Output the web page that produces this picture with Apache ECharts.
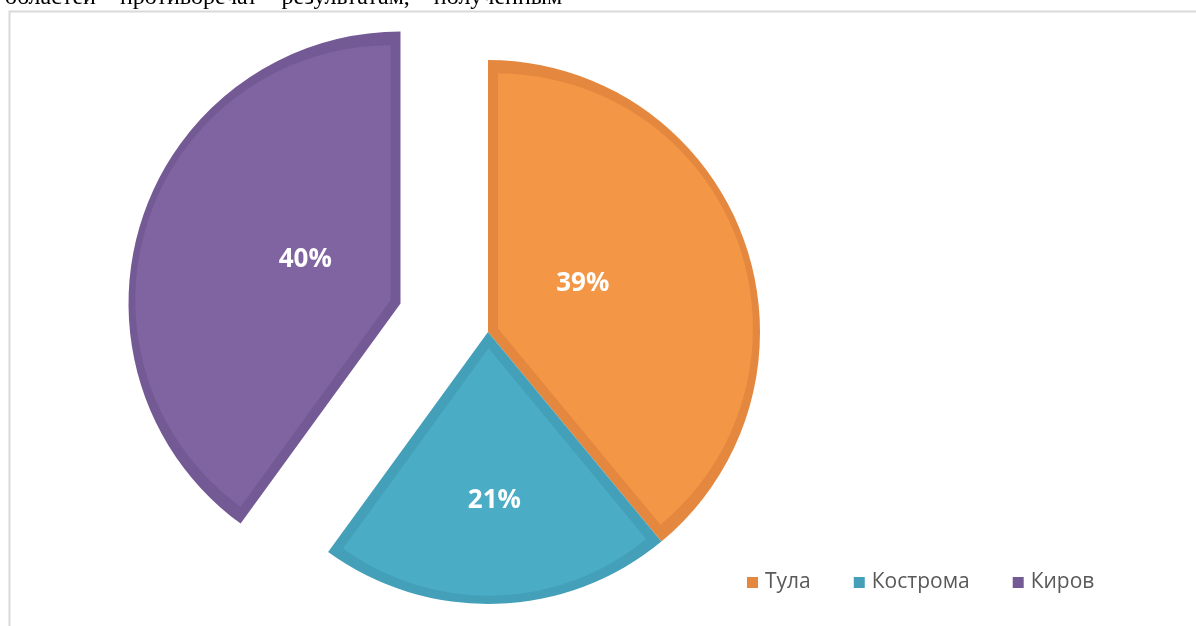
<!DOCTYPE html>
<html>
<head>
<meta charset="utf-8">
<style>
  html, body { margin: 0; padding: 0; background: #fff; }
  #chart { width: 1196px; height: 626px; }
</style>
<script src="https://cdn.jsdelivr.net/npm/echarts@6/dist/echarts.min.js"></script>
</head>
<body>
<div id="chart"></div>
<script>
// Share of respondents by region, percent
const regions = ['Тула', 'Кострома', 'Киров'];
const shares = [39, 21, 40];
const fillColors = ['#F39646', '#4BACC6', '#8064A2'];
const edgeColors = ['#E3883E', '#44A0B9', '#745A95'];
const pulledOut = 'Киров';

// pie geometry
const CENTER = [488, 332];
const RADIUS = 272;
const PULL = 92;      // how far the pulled-out slice is moved
const EDGE = 10;      // width of the darker rim drawn inside each slice

// small nudges so the percentage labels sit where the layout wants them
const labelShift = [[-36, -1], [2, 30], [37, -1]];

const chart = echarts.init(document.getElementById('chart'), null, { renderer: 'canvas' });

// angular span and bisector direction of every slice (clockwise from 12 o'clock)
const total = shares.reduce((a, b) => a + b, 0);
let acc = 0;
const slices = shares.map((v, i) => {
  const span = v / total * 2 * Math.PI;
  const mid = acc + span / 2;
  acc += span;
  return { span, dir: [Math.sin(mid), -Math.cos(mid)], pulled: regions[i] === pulledOut };
});

const transparent = 'rgba(0,0,0,0)';

// darker rim layer: full slices
const rimSeries = {
  type: 'pie',
  z: 1,
  silent: true,
  center: CENTER,
  radius: RADIUS,
  startAngle: 90,
  clockwise: true,
  selectedMode: 'single',
  selectedOffset: PULL,
  emphasis: { disabled: true },
  label: { show: false },
  labelLine: { show: false },
  data: regions.map((name, i) => ({
    name, value: shares[i], selected: name === pulledOut,
    itemStyle: { color: edgeColors[i] }
  }))
};

// lighter fill of each slice, inset from its rim by EDGE px on every side
const fillSeries = slices.map((s, i) => {
  const half = s.span / 2;
  const shift = EDGE / Math.sin(half);
  const base = s.pulled ? PULL : 0;
  const c = [CENTER[0] + s.dir[0] * (base + shift), CENTER[1] + s.dir[1] * (base + shift)];
  const r = RADIUS - EDGE - shift * (1 + Math.cos(half)) / 2;
  return {
    type: 'pie',
    z: 2,
    silent: true,
    center: c,
    radius: r,
    startAngle: 90,
    clockwise: true,
    emphasis: { disabled: true },
    label: { show: false },
    labelLine: { show: false },
    data: regions.map((name, j) => ({
      name, value: shares[j],
      itemStyle: { color: j === i ? fillColors[i] : transparent }
    }))
  };
});

// percentage labels
const labelSeries = {
  type: 'pie',
  z: 3,
  silent: true,
  center: CENTER,
  radius: RADIUS,
  startAngle: 90,
  clockwise: true,
  selectedMode: 'single',
  selectedOffset: PULL,
  percentPrecision: 0,
  avoidLabelOverlap: false,
  emphasis: { disabled: true },
  itemStyle: { color: transparent },
  label: {
    show: true,
    position: 'inside',
    formatter: '{d}%',
    color: '#ffffff',
    fontSize: 26,
    fontWeight: 'bold',
    fontFamily: '"Open Sans", "Noto Sans", sans-serif'
  },
  labelLine: { show: false },
  labelLayout: function (p) {
    const sh = labelShift[p.dataIndex];
    return { dx: sh[0], dy: sh[1] };
  },
  data: regions.map((name, i) => ({ name, value: shares[i], selected: name === pulledOut }))
};

chart.setOption({
  animation: false,
  backgroundColor: '#ffffff',
  color: edgeColors,
  graphic: [
    {
      type: 'text',
      left: 5,
      top: -14,
      silent: true,
      style: {
        text: 'областей    противоречат    результатам,    полученным',
        font: '24px "Liberation Serif", "DejaVu Serif", serif',
        fill: '#000000'
      }
    },
    {
      type: 'rect',
      silent: true,
      shape: { x: 9.5, y: 11.5, width: 1400, height: 1000 },
      style: { fill: 'none', stroke: '#D9D9D9', lineWidth: 2 }
    }
  ],
  legend: {
    data: regions.map((name, i) => ({ name, itemStyle: { color: edgeColors[i] } })),
    left: 747,
    top: 572,
    padding: 0,
    orient: 'horizontal',
    itemWidth: 11,
    itemHeight: 11,
    itemGap: 43,
    icon: 'rect',
    selectedMode: false,
    textStyle: {
      color: '#595959',
      fontSize: 21,
      fontFamily: '"Open Sans", "Noto Sans", sans-serif',
      padding: [0, 0, 0, 2]
    }
  },
  series: [rimSeries].concat(fillSeries, [labelSeries])
});
</script>
</body>
</html>
